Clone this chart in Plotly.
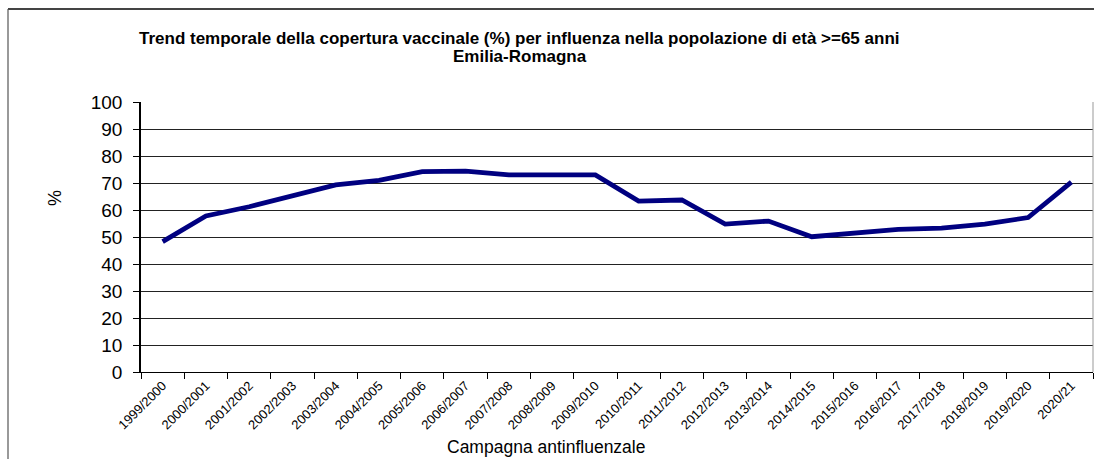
import plotly.graph_objects as go

campaigns = ["1999/2000", "2000/2001", "2001/2002", "2002/2003", "2003/2004", "2004/2005",
             "2005/2006", "2006/2007", "2007/2008", "2008/2009", "2009/2010", "2010/2011",
             "2011/2012", "2012/2013", "2013/2014", "2014/2015", "2015/2016", "2016/2017",
             "2017/2018", "2018/2019", "2019/2020", "2020/21"]
coverage = [48.3, 57.8, 61.2, 65.2, 69.3, 71.0, 74.2, 74.4, 73.0, 73.0, 73.0, 63.3,
            63.7, 54.8, 55.9, 50.1, 51.6, 52.8, 53.3, 54.8, 57.2, 70.3]
y_ticks = [0, 10, 20, 30, 40, 50, 60, 70, 80, 90, 100]

title_line1 = "Trend temporale della copertura vaccinale (%) per influenza nella popolazione di età >=65 anni"
title_line2 = "Emilia-Romagna"
x_title = "Campagna antinfluenzale"
y_title = "%"

FONT = "Liberation Sans, Arial, sans-serif"

W, H = 1094, 459
L, R, T, B = 141, 1, 102, 87
PW = W - L - R
PH = H - T - B


def px_x(p):
    return (p - L) / PW


def px_y(p):
    return (H - B - p) / PH


fig = go.Figure()
fig.add_trace(go.Scatter(
    x=campaigns, y=coverage, mode="lines",
    line=dict(color="#000080", width=4.8),
    hoverinfo="x+y", showlegend=False,
))

fig.update_layout(
    width=W, height=H,
    margin=dict(l=L, r=R, t=T, b=B, pad=0),
    paper_bgcolor="white", plot_bgcolor="white",
    font=dict(family=FONT, color="black"),
    showlegend=False,
    xaxis=dict(
        type="category", range=[-0.5, len(campaigns) - 0.5],
        showgrid=False, zeroline=False,
        showline=True, linecolor="black", linewidth=1,
        ticks="outside", ticklen=6, tickcolor="black", tickson="boundaries",
        tickangle=-45, tickfont=dict(size=13, family=FONT, color="black"),
    ),
    yaxis=dict(
        range=[0, 100], tickvals=y_ticks, ticktext=[str(v) for v in y_ticks],
        showgrid=True, gridcolor="#222", gridwidth=1.2,
        zeroline=False,
        showline=True, linecolor="black", linewidth=1.5,
        ticks="outside", ticklen=6, tickcolor="black",
        tickfont=dict(size=19, family=FONT, color="black"),
        ticklabelstandoff=7,
    ),
    shapes=[
        dict(type="line", xref="paper", yref="paper", x0=px_x(8), x1=px_x(1100),
             y0=px_y(9), y1=px_y(9), line=dict(color="#444", width=2)),
        dict(type="line", xref="paper", yref="paper", x0=px_x(8), x1=px_x(8),
             y0=px_y(9), y1=px_y(470), line=dict(color="#555", width=1.2)),
        dict(type="line", xref="paper", yref="paper", x0=1, x1=1,
             y0=0, y1=1, line=dict(color="#999", width=1)),
    ],
    annotations=[
        dict(text="<b>" + title_line1 + "</b>", xref="paper", yref="paper",
             x=px_x(519), y=px_y(39), xanchor="center", yanchor="middle",
             showarrow=False, font=dict(size=17, family=FONT, color="black")),
        dict(text="<b>" + title_line2 + "</b>", xref="paper", yref="paper",
             x=px_x(520), y=px_y(57), xanchor="center", yanchor="middle",
             showarrow=False, font=dict(size=17, family=FONT, color="black")),
        dict(text=x_title, xref="paper", yref="paper",
             x=px_x(546), y=px_y(447), xanchor="center", yanchor="middle",
             showarrow=False, font=dict(size=17.5, family=FONT, color="black")),
        dict(text=y_title, xref="paper", yref="paper", textangle=-90,
             x=px_x(55), y=px_y(198), xanchor="center", yanchor="middle",
             showarrow=False, font=dict(size=18, family=FONT, color="black")),
    ],
)

fig.write_html(
    "out.html",
    config={"displayModeBar": False},
    post_script="document.body.style.margin='0';document.body.style.overflow='hidden';",
)
